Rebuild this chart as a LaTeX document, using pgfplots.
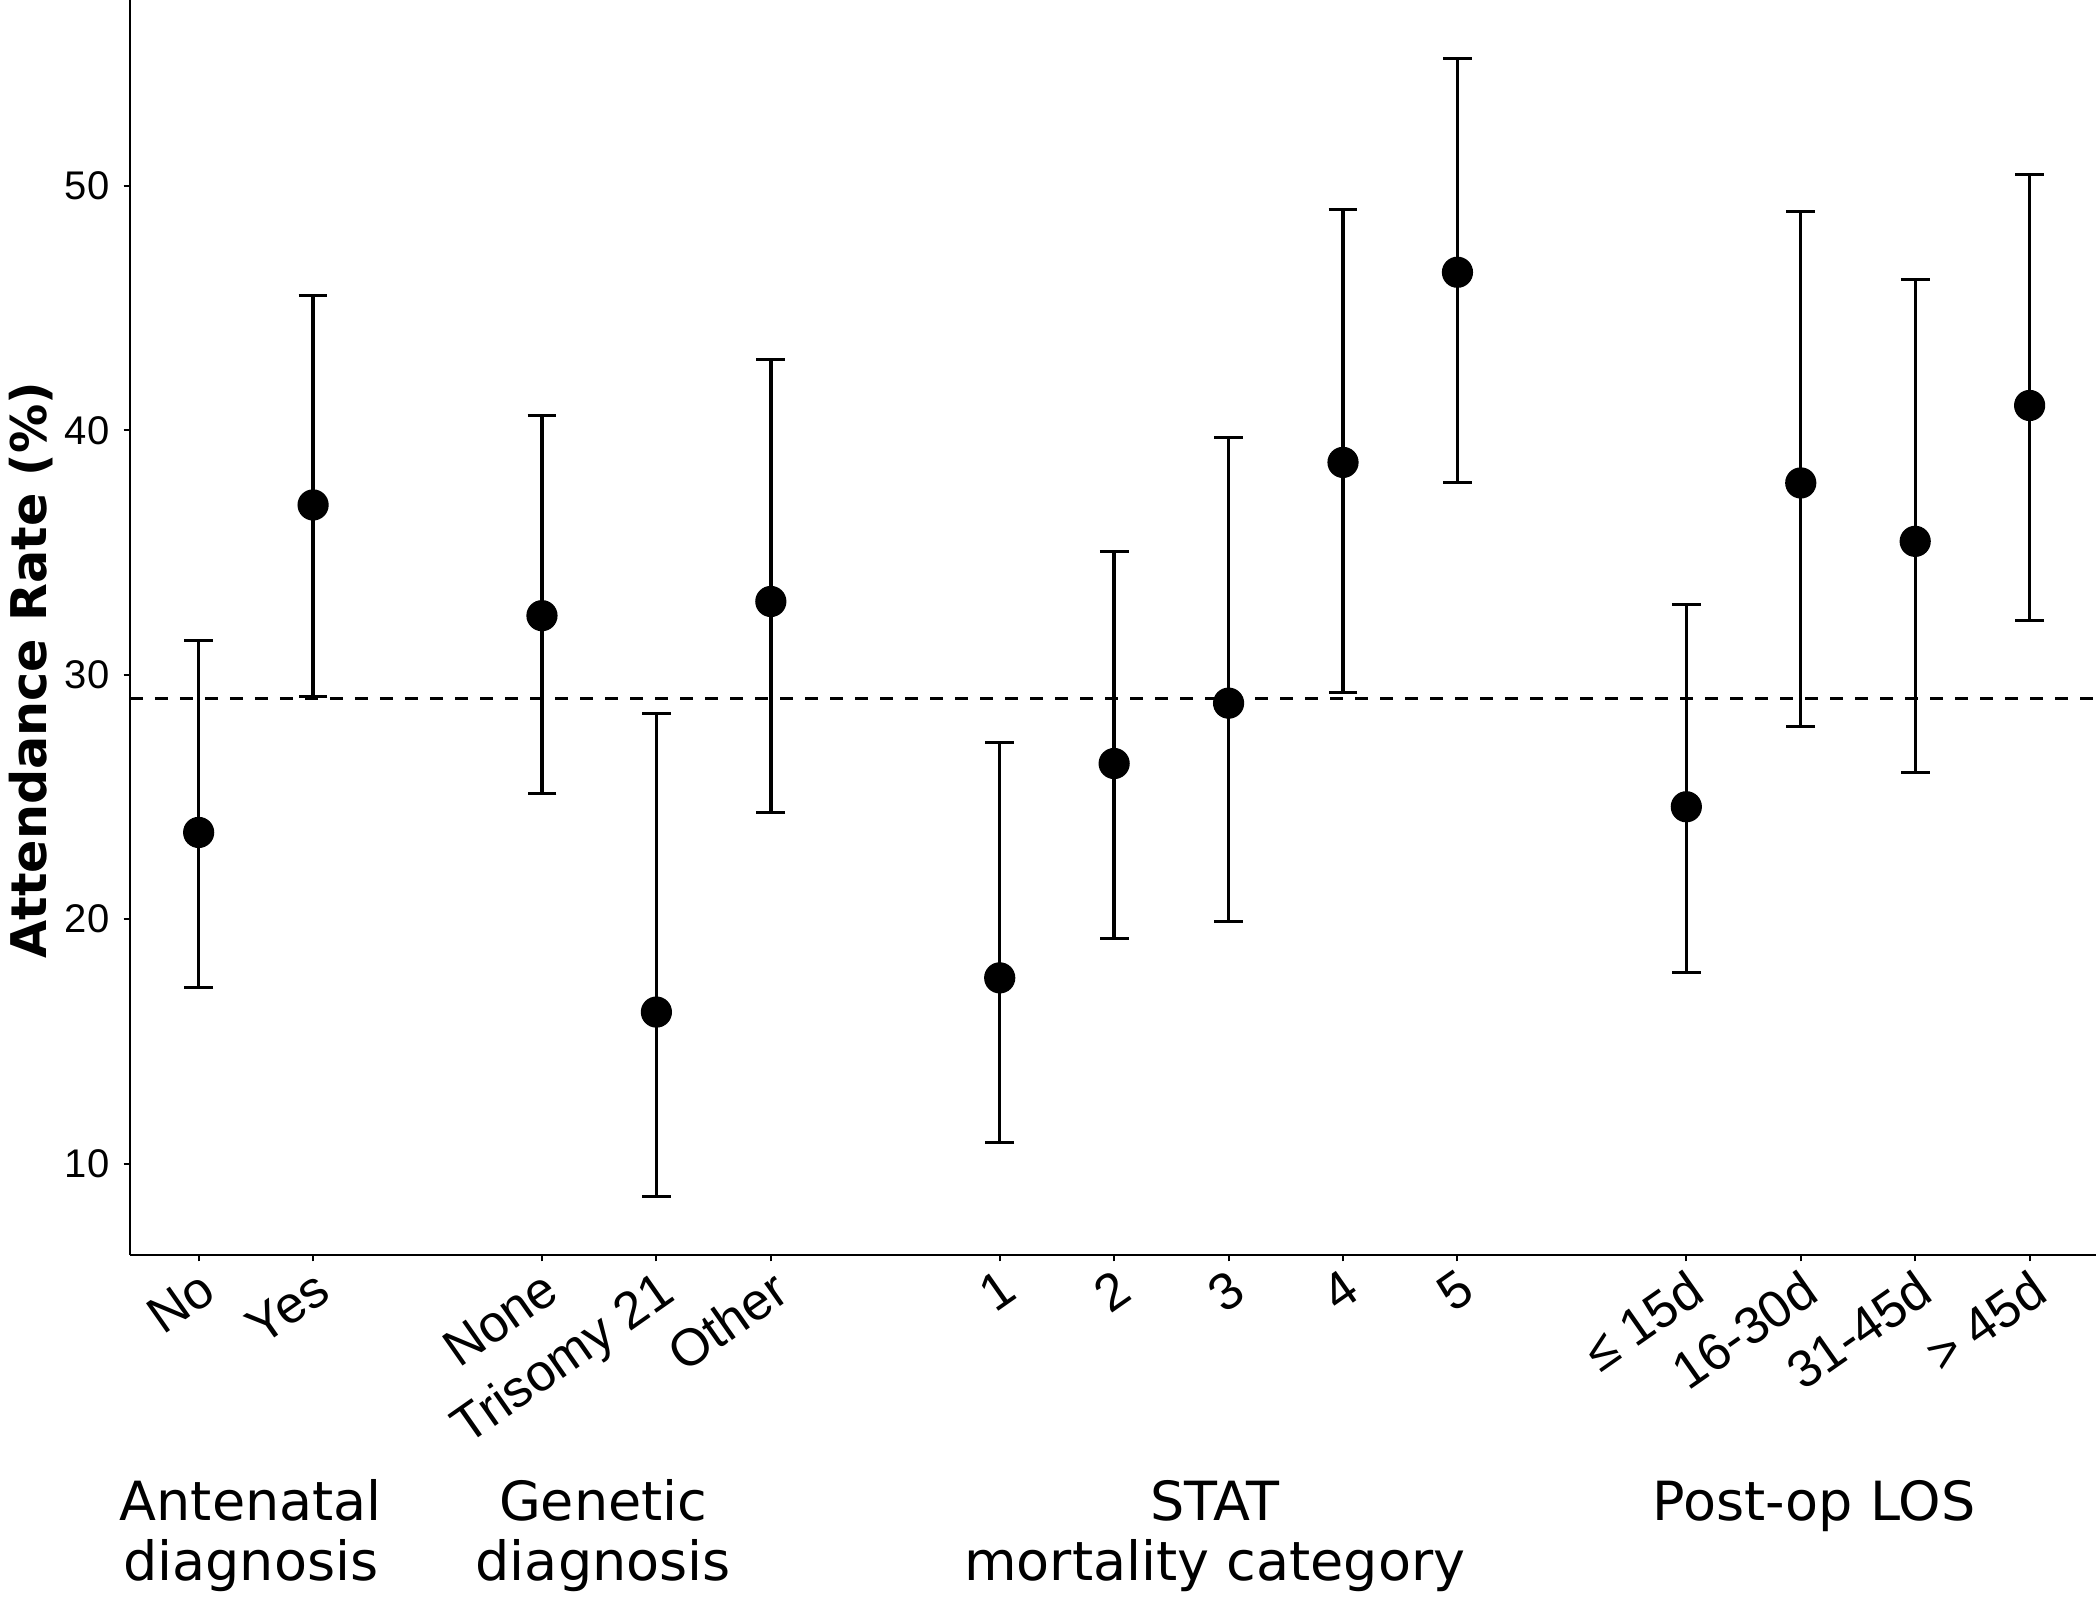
\documentclass[border=0pt]{standalone}
\usepackage{fontspec}
\setmainfont{Liberation Sans}
\newfontfamily\dejavu{DejaVu Sans}
\usepackage{pgfplots}
\pgfplotsset{compat=1.18}
\usepackage{pgfplotstable}

\pgfplotstableread{
x y lo hi
1 23.55 17.20 31.40
2 36.95 29.12 45.52
4 32.42 25.15 40.62
5 16.20 8.65 28.43
6 33.00 24.38 42.92
8 17.60 10.85 27.21
9 26.37 19.23 35.04
10 28.84 19.92 39.72
11 38.69 29.28 49.05
12 46.47 37.87 55.22
14 24.60 17.83 32.88
15 37.85 27.87 48.95
16 35.46 25.99 46.17
17 41.02 32.24 50.45
}\datatable

\begin{document}
\begin{tikzpicture}
\begin{axis}[name=ax, scale only axis, width=491.5pt, height=313.75pt,
 xmin=0.4, xmax=17.58, ymin=6.26, ymax=57.61,
 axis lines*=left, axis line style={line width=0.7pt, -},
 tick align=outside, major tick length=1.6pt, tick style={line width=0.5pt, black},
 xtick={1,2,4,5,6,8,9,10,11,12,14,15,16,17},
 xticklabels={No,Yes,None,Trisomy 21,Other,1,2,3,4,5,≤ 15d,16-30d,31-45d,> 45d},
 xticklabel style={rotate=35, anchor=north east, font=\fontsize{13}{15}\selectfont, inner sep=1pt},
 ytick={10,20,30,40,50},
 yticklabel style={font=\fontsize{10}{12}\selectfont},
 /pgf/number format/assume math mode=true,
 clip=false,
]
\addplot[black, line width=0.75pt, dash pattern=on 3.2pt off 3.05pt] coordinates {(0.4,29.03) (17.58,29.03)};
\addplot[only marks, mark=*, mark size=3.7pt, black,
  error bars/.cd, y dir=both, y explicit,
  error bar style={line width=0.85pt, black},
  error mark options={rotate=90, line width=0.75pt, mark size=3.6pt, black}]
  table[x=x, y=y, y error plus expr=\thisrow{hi}-\thisrow{y}, y error minus expr=\thisrow{y}-\thisrow{lo}] {\datatable};

\node[rotate=90, anchor=base, font=\dejavu\bfseries\fontsize{12.3}{14}\selectfont] at ([xshift=-20.75pt]rel axis cs:0,0.466) {Attendance Rate (\%)};

\node[anchor=base, font=\dejavu\fontsize{13.5}{15}\selectfont] at ([yshift=-66.25pt]axis cs:1.456,6.26) {Antenatal};
\node[anchor=base, font=\dejavu\fontsize{13.5}{15}\selectfont] at ([yshift=-81.25pt]axis cs:1.456,6.26) {diagnosis};
\node[anchor=base, font=\dejavu\fontsize{13.5}{15}\selectfont] at ([yshift=-66.25pt]axis cs:4.535,6.26) {Genetic};
\node[anchor=base, font=\dejavu\fontsize{13.5}{15}\selectfont] at ([yshift=-81.25pt]axis cs:4.535,6.26) {diagnosis};
\node[anchor=base, font=\dejavu\fontsize{13.5}{15}\selectfont] at ([yshift=-66.25pt]axis cs:9.88,6.26) {STAT};
\node[anchor=base, font=\dejavu\fontsize{13.5}{15}\selectfont] at ([yshift=-81.25pt]axis cs:9.88,6.26) {mortality category};
\node[anchor=base, font=\dejavu\fontsize{13.5}{15}\selectfont] at ([yshift=-66.25pt]axis cs:15.115,6.26) {Post-op LOS};
\end{axis}
\pgfresetboundingbox
\path[use as bounding box] ([xshift=-32.5pt,yshift=-86pt]ax.south west) rectangle ([xshift=1pt]ax.north east);
\end{tikzpicture}
\end{document}
